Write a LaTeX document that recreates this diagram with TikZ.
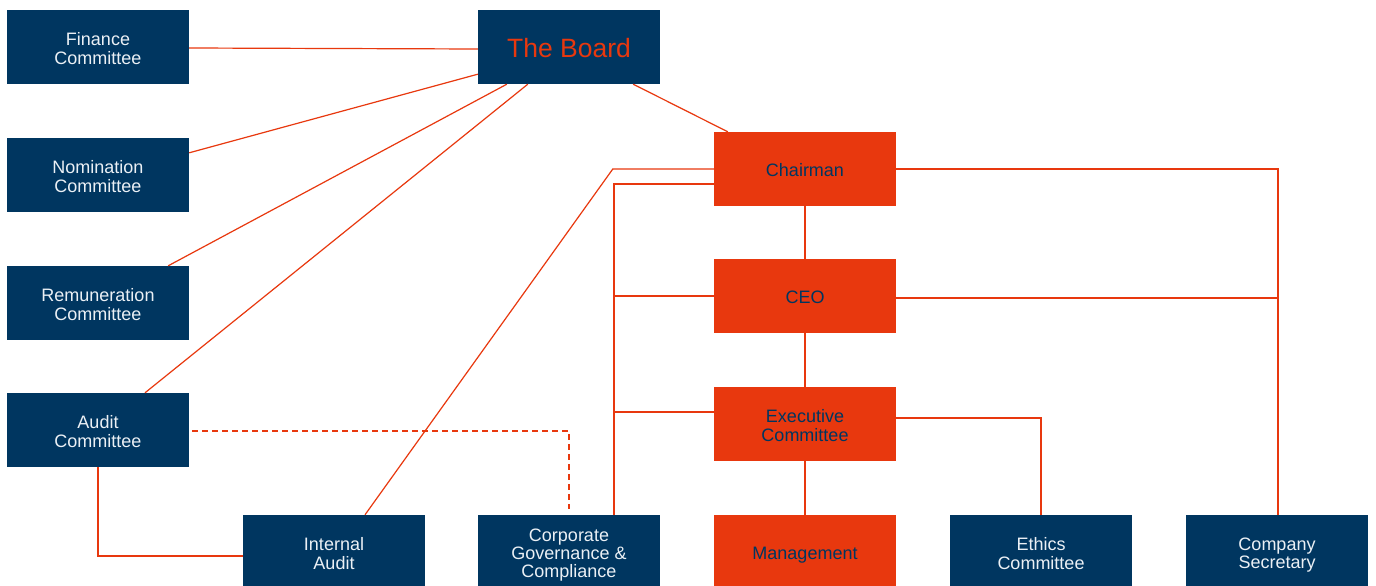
\documentclass[tikz,border=0pt]{standalone}
\usepackage{fontspec}
\setmainfont{Liberation Sans}
\usetikzlibrary{calc}
\definecolor{navy}{RGB}{0,54,96}
\definecolor{orng}{RGB}{232,56,14}
\definecolor{paletxt}{RGB}{235,240,245}
\newcommand{\boxtext}[2][-4pt]{\raisebox{#1}[\height][\depth]{\begin{tabular}{@{}c@{}}#2\end{tabular}}}
\begin{document}
\begin{tikzpicture}[x=1pt,y=-1pt,
  box/.style={minimum width=182pt,minimum height=74pt,inner sep=0pt,align=center,
    font=\fontsize{18}{18}\selectfont},
  navybox/.style={box,fill=navy,text=paletxt},
  orgbox/.style={box,fill=orng,text=navy},
  conn/.style={draw=orng,line width=1.2pt},
  dconn/.style={conn,dash pattern=on 6pt off 4pt}]
\useasboundingbox (0,0) rectangle (1376,586);
\fill[white] (0,0) rectangle (1376,586);
% nodes
\node[navybox] (fin) at (98,47) {\boxtext{Finance\\Committee}};
\node[navybox] (nom) at (98,175) {\boxtext{Nomination\\Committee}};
\node[navybox] (rem) at (98,303) {\boxtext{Remuneration\\Committee}};
\node[navybox] (aud) at (98,430) {\boxtext{Audit\\Committee}};
\node[navybox,text=orng,font=\fontsize{26.5}{28}\selectfont] (board) at (569,47) {\boxtext[-5pt]{The Board}};
\node[orgbox] (chair) at (805,169) {\boxtext{Chairman}};
\node[orgbox] (ceo) at (805,296) {\boxtext{CEO}};
\node[orgbox] (exec) at (805,424) {\boxtext{Executive\\Committee}};
\node[navybox] (ia) at (334,552) {\boxtext{Internal\\Audit}};
\node[navybox] (cgc) at (569,552) {\boxtext{Corporate\\Governance \&\\Compliance}};
\node[orgbox] (mgmt) at (805,552) {\boxtext{Management}};
\node[navybox] (eth) at (1041,552) {\boxtext{Ethics\\Committee}};
\node[navybox] (sec) at (1277,552) {\boxtext{Company\\Secretary}};
% helper coordinates
\coordinate (bend) at ($(chair.west)+(-101,0)$);
\coordinate (rail) at ($(cgc.north)+(45,0)$);
% board links
\draw[conn] ($(fin.east)+(0,1)$) -- ($(board.west)+(0,2)$);
\draw[conn] ($(nom.north east)+(0,15)$) -- ($(board.south west)+(0,-10)$);
\draw[conn] ($(rem.north east)+(-21,0)$) -- ($(board.south west)+(29,0)$);
\draw[conn] ($(aud.north)+(47,0)$) -- ($(board.south west)+(50,0)$);
\draw[conn] ($(board.south east)+(-27,0)$) -- ($(chair.north west)+(14,0)$);
% chairman left links
\draw[conn] (chair.west) -- (bend) -- ($(ia.north)+(31,0)$);
\draw[conn] ($(chair.west)+(0,15)$) -| (rail);
\draw[conn] (ceo.west) -- (ceo.west -| rail);
\draw[conn] ($(exec.west)+(0,-12)$) -- ($(exec.west -| rail)+(0,-12)$);
% vertical chain
\draw[conn] (chair.south) -- (ceo.north);
\draw[conn] (ceo.south) -- (exec.north);
\draw[conn] (exec.south) -- (mgmt.north);
% right links
\draw[conn] (chair.east) -| ($(sec.north)+(1,0)$);
\draw[conn] ($(ceo.east)+(0,2)$) -- ($(ceo.east -| sec.north)+(1,2)$);
\draw[conn] ($(exec.east)+(0,-6)$) -| (eth.north);
% audit links
\draw[dconn] ($(aud.east)+(3,1)$) -| ($(cgc.north)+(0,-6)$);
\draw[conn] (aud.south) |- ($(ia.west)+(0,4)$);
\end{tikzpicture}
\end{document}
